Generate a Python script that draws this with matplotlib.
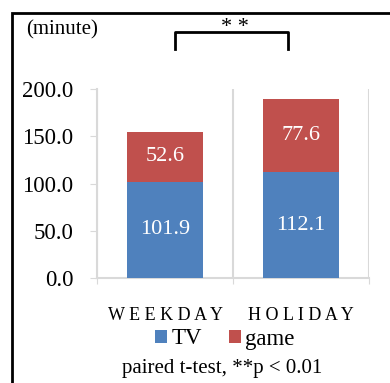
import numpy as np
import matplotlib
matplotlib.use("Agg")
import matplotlib.pyplot as plt
from matplotlib.patches import Rectangle
from matplotlib.lines import Line2D

plt.rcParams['font.family'] = ['Liberation Serif', 'DejaVu Serif']

categories = ["W E E K D A Y", "H O L I D A Y"]
tv = [101.9, 112.1]
game = [52.6, 77.6]
yticks = [0, 50, 100, 150, 200]

blue = '#4F81BD'
red = '#C0504D'
grid = '#D9D9D9'

W, H = 390, 383
fig = plt.figure(figsize=(W / 100, H / 100), dpi=100)
ax = fig.add_axes([97 / W, 1 - 278 / H, (369 - 97) / W, (278 - 89) / H])

x = np.arange(len(categories))
b1 = ax.bar(x, tv, width=0.56, color=blue, label='TV', zorder=3)
b2 = ax.bar(x, game, width=0.56, bottom=tv, color=red, label='game', zorder=3)

for i in range(len(x)):
    ax.text(x[i], tv[i] / 2, f"{tv[i]:.1f}", ha='center', va='center',
            color='white', fontsize=16)
    ax.text(x[i], tv[i] + game[i] / 2, f"{game[i]:.1f}", ha='center', va='center',
            color='white', fontsize=16)

ax.set_xlim(-0.5, 1.5)
ax.set_ylim(0, 200)
ax.set_yticks(yticks)
ax.set_yticklabels([f"{v:.1f}" for v in yticks], fontsize=16.5)
ax.tick_params(axis='y', direction='out', length=5, color=grid, pad=12)

# category boundaries as gridlines, labels on minor ticks
ax.set_xticks([-0.5, 0.5, 1.5])
ax.set_xticklabels([])
ax.tick_params(axis='x', which='major', direction='out', length=4, color=grid)
ax.set_xticks(x, minor=True)
ax.set_xticklabels(categories, minor=True, fontsize=13)
ax.tick_params(axis='x', which='minor', length=0, pad=21)
ax.xaxis.grid(True, which='major', color=grid, linewidth=1.5, zorder=0)

for s in ['top', 'right']:
    ax.spines[s].set_visible(False)
ax.spines['left'].set_color(grid)
ax.spines['left'].set_linewidth(1.5)
ax.spines['bottom'].set_color(grid)
ax.spines['bottom'].set_linewidth(1.5)

fig.legend(handles=[b1, b2], loc='center', bbox_to_anchor=(225 / W, 1 - 339 / H),
           ncol=2, frameon=False, fontsize=16.5, handlelength=0.5, handleheight=0.5,
           handletextpad=0.2, columnspacing=1.2, borderpad=0)

fig.text(222 / W, 1 - 368 / H, "paired t-test, **p < 0.01", ha='center', va='center',
         fontsize=15)
fig.text(62 / W, 1 - 30 / H, "(minute)", ha='center', va='center', fontsize=15)
fig.text(235 / W, 1 - 27 / H, "* *", ha='center', va='center', fontsize=16)

# significance bracket
fig.add_artist(Line2D([175 / W, 175 / W, 288 / W, 288 / W],
                      [1 - 49 / H, 1 - 32 / H, 1 - 32 / H, 1 - 49 / H],
                      color='black', linewidth=2))

# outer frame (cut off at right and bottom)
fig.add_artist(Rectangle((12 / W, -0.1), 1.2, 1 - 13 / H + 0.1,
                         fill=False, edgecolor='black', linewidth=2,
                         transform=fig.transFigure))

fig.savefig("out.png", dpi=100)
